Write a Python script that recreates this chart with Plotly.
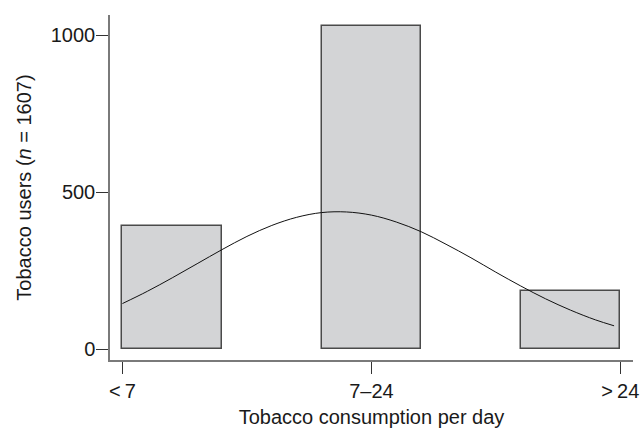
import plotly.graph_objects as go

# ---- data ----
categories = ["<\u20097", "7\u201324", ">\u200924"]
category_codes = [1, 2, 3]
counts = [393, 1030, 184]          # sum = 1607

# Stata-style histogram: 5 bins spanning the codes 1..3
n_bins = 5
bin_lo, bin_hi = min(category_codes), max(category_codes)
bin_width = (bin_hi - bin_lo) / n_bins

# normal-density overlay
curve_x = [1.0, 1.1, 1.2, 1.3, 1.4, 1.5, 1.6, 1.7, 1.8, 1.9, 2.0,
           2.1, 2.2, 2.3, 2.4, 2.5, 2.6, 2.7, 2.8, 2.9, 2.975]
curve_y = [145, 184, 227, 272, 317, 359, 394, 420, 435, 437, 427,
           405, 374, 334, 291, 245, 201, 160, 124, 93, 74]

y_ticks = [0, 500, 1000]

# bin centres for each category
bar_x = []
for c in category_codes:
    idx = min(int((c - bin_lo) / bin_width + 1e-9), n_bins - 1)
    bar_x.append(bin_lo + bin_width * (idx + 0.5))

FONT = "Liberation Sans, Arial, Helvetica, sans-serif"

fig = go.Figure()
fig.add_trace(go.Bar(
    x=bar_x, y=counts, width=bin_width,
    marker=dict(color="#d3d4d6", line=dict(color="#4a4a4a", width=1.5)),
    hoverinfo="skip", showlegend=False,
))
fig.add_trace(go.Scatter(
    x=curve_x, y=curve_y, mode="lines",
    line=dict(color="#111111", width=1, shape="spline"),
    hoverinfo="skip", showlegend=False,
))

fig.update_layout(
    width=640, height=428,
    margin=dict(l=110, r=7, t=15, b=68),
    paper_bgcolor="white", plot_bgcolor="white",
    font=dict(family=FONT, size=20, color="#1a1a1a"),
    bargap=0,
)
fig.update_xaxes(
    range=[0.95, 3.051], automargin=False,
    tickvals=category_codes, ticktext=categories,
    showgrid=False, zeroline=False,
    showline=True, linecolor="#7a7a7a", linewidth=1.5,
    ticks="outside", ticklen=12, tickwidth=1.2, tickcolor="#333333",
    tickfont=dict(size=20),
    title=dict(text="Tobacco consumption per day", font=dict(size=20), standoff=10),
)
fig.update_yaxes(
    range=[-35, 1065], automargin=False,
    tickvals=y_ticks,
    showgrid=False, zeroline=False,
    showline=True, linecolor="#7a7a7a", linewidth=1.5,
    ticks="outside", ticklen=12, tickwidth=1.2, tickcolor="#333333",
    tickfont=dict(size=20), ticklabelstandoff=-3,
    title=dict(text="Tobacco users (<i>n</i> = 1607)", font=dict(size=20), standoff=14),
)

# remove the page's default body margin so the 640x428 figure fills the window
fig.write_html(
    "out.html",
    config={"displayModeBar": False},
    post_script="document.body.style.margin='0';document.body.style.overflow='hidden';",
)
